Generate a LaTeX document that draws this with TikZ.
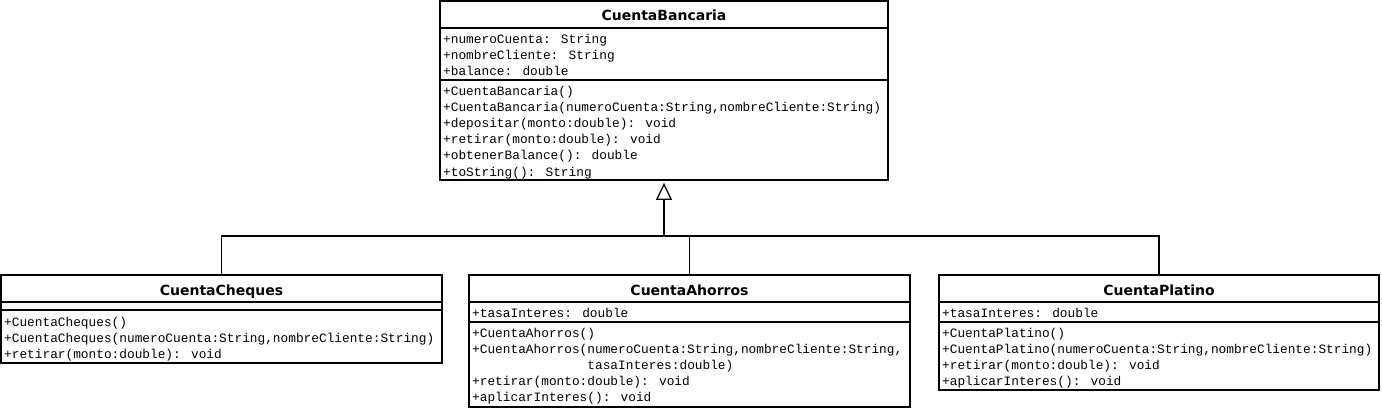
\documentclass[tikz,border=0pt]{standalone}
\usepackage{fontspec}
\newfontfamily\monof{Liberation Mono}
\newfontfamily\titlef{DejaVu Sans}
\usetikzlibrary{arrows.meta}
\tikzset{
  umlbox/.style={draw, line width=1.8pt, inner sep=0pt, fill=white},
  sepline/.style={line width=1.8pt},
  row/.style={anchor=base west, inner sep=0pt, font=\monof\fontsize{12.8}{15}\selectfont},
  ttl/.style={anchor=base, inner sep=0pt, font=\titlef\bfseries\fontsize{14}{16}\selectfont},
  conn/.style={line width=1.6pt},
  genarrow/.style={conn, -{Triangle[open, length=17pt, width=16pt, line width=1.3pt]}, shorten >=2pt},
}
\begin{document}
\begin{tikzpicture}[x=1pt, y=-1pt]
\useasboundingbox (0,0) rectangle (1382,409);

% ---------- CuentaBancaria ----------
\node[umlbox, minimum width=448pt, minimum height=179pt] (cb) at (664,90.5) {};
\node[ttl] (cbt) at (664,21) {CuentaBancaria};
\draw[sepline] (cb.west |- 0,28) -- (cb.east |- 0,28);
\draw[sepline] (cb.west |- 0,80) -- (cb.east |- 0,80);
\node[row] (cba1) at (443,44) {+numeroCuenta: String};
\node[row] (cba2) at (443,60) {+nombreCliente: String};
\node[row] (cba3) at (443,76) {+balance: double};
\node[row] (cbm1) at (443,96) {+CuentaBancaria()};
\node[row] (cbm2) at (443,112) {+CuentaBancaria(numeroCuenta:String,nombreCliente:String)};
\node[row] (cbm3) at (443,128) {+depositar(monto:double): void};
\node[row] (cbm4) at (443,144) {+retirar(monto:double): void};
\node[row] (cbm5) at (443,160) {+obtenerBalance(): double};
\node[row] (cbm6) at (443,176) {+toString(): String};

% ---------- CuentaCheques ----------
\node[umlbox, minimum width=441pt, minimum height=88pt] (cc) at (221.5,319) {};
\node[ttl] (cct) at (221.5,295) {CuentaCheques};
\draw[sepline] (cc.west |- 0,302) -- (cc.east |- 0,302);
\draw[sepline] (cc.west |- 0,310) -- (cc.east |- 0,310);
\node[row] (ccm1) at (4,326) {+CuentaCheques()};
\node[row] (ccm2) at (4,342) {+CuentaCheques(numeroCuenta:String,nombreCliente:String)};
\node[row] (ccm3) at (4,358) {+retirar(monto:double): void};

% ---------- CuentaAhorros ----------
\node[umlbox, minimum width=441pt, minimum height=132pt] (ca) at (689.5,341) {};
\node[ttl] (cat) at (689.5,295) {CuentaAhorros};
\draw[sepline] (ca.west |- 0,302) -- (ca.east |- 0,302);
\draw[sepline] (ca.west |- 0,322) -- (ca.east |- 0,322);
\node[row] (caa1) at (472,317) {+tasaInteres: double};
\node[row] (cam1) at (472,337) {+CuentaAhorros()};
\node[row] (cam2) at (472,353) {+CuentaAhorros(numeroCuenta:String,nombreCliente:String,};
\node[row] (cam2b) at (472,369) {\hphantom{+CuentaAhorros(}tasaInteres:double)};
\node[row] (cam3) at (472,385) {+retirar(monto:double): void};
\node[row] (cam4) at (472,401) {+aplicarInteres(): void};

% ---------- CuentaPlatino ----------
\node[umlbox, minimum width=440pt, minimum height=115pt] (cp) at (1159,332.5) {};
\node[ttl] (cpt) at (1159,295) {CuentaPlatino};
\draw[sepline] (cp.west |- 0,302) -- (cp.east |- 0,302);
\draw[sepline] (cp.west |- 0,322) -- (cp.east |- 0,322);
\node[row] (cpa1) at (942,317) {+tasaInteres: double};
\node[row] (cpm1) at (942,337) {+CuentaPlatino()};
\node[row] (cpm2) at (942,353) {+CuentaPlatino(numeroCuenta:String,nombreCliente:String)};
\node[row] (cpm3) at (942,369) {+retirar(monto:double): void};
\node[row] (cpm4) at (942,385) {+aplicarInteres(): void};

% ---------- connectors ----------
\coordinate (bus) at (664,236);
\draw[conn] (cc.north) |- (bus) -| (cp.north);
\draw[conn] (ca.north) -- (ca.north |- bus);
\draw[genarrow] (bus) -- (cb.south);
\end{tikzpicture}
\end{document}
